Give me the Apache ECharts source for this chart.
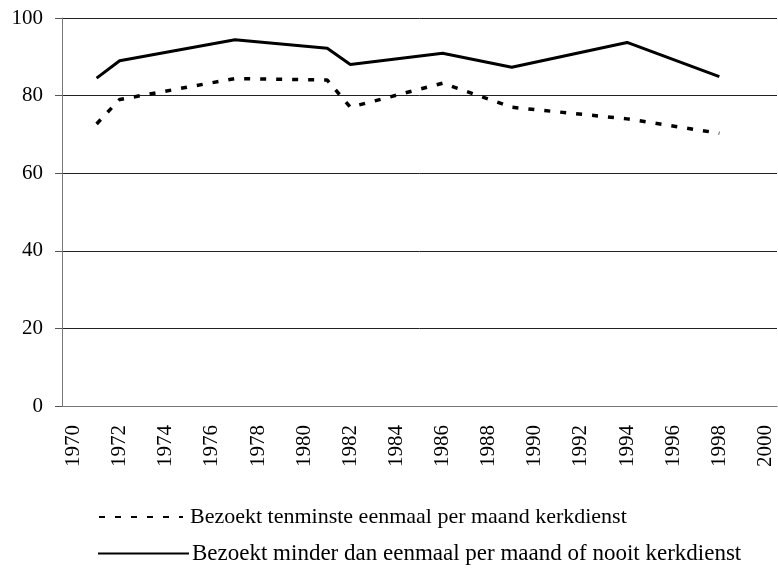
<!DOCTYPE html>
<html>
<head>
<meta charset="utf-8">
<script src="https://cdn.jsdelivr.net/npm/echarts@6/dist/echarts.min.js"></script>
<style>
html, body { margin: 0; padding: 0; background: #fff; }
#chart { width: 778px; height: 568px; }
</style>
</head>
<body>
<div id="chart"></div>
<script>
// jaren op de x-as (1970 t/m 2000)
var years = [];
for (var y = 1970; y <= 2000; y++) years.push(String(y));

// meetjaren en percentages
var surveyYears = ['1971', '1972', '1977', '1981', '1982', '1986', '1989', '1994', '1998'];
var tenminsteMaand = [72.7, 79.0, 84.4, 84.0, 77.0, 83.2, 77.0, 74.0, 70.3];
var minderOfNooit = [84.5, 89.0, 94.4, 92.2, 88.0, 90.9, 87.3, 93.7, 84.9];

var seriesNames = [
	'Bezoekt tenminste eenmaal per maand kerkdienst',
	'Bezoekt minder dan eenmaal per maand of nooit kerkdienst'
];

function toCategoryData(values) {
	return years.map(function (yr) {
		var i = surveyYears.indexOf(yr);
		return i >= 0 ? values[i] : null;
	});
}

var font = 'Liberation Serif';

function legendFor(name, left, top, width, size, pad) {
	return {
		orient: 'vertical',
		left: left,
		top: top,
		padding: 0,
		itemWidth: width,
		itemHeight: 14,
		itemStyle: { opacity: 0 },
		textStyle: { fontFamily: font, fontSize: size, color: '#000', padding: [0, 0, 0, pad] },
		data: [name]
	};
}

echarts.init(document.getElementById('chart')).setOption({
	animation: false,
	textStyle: { fontFamily: font, color: '#000' },
	grid: { left: 62, right: 1, top: 18, bottom: 162 },
	legend: [
		legendFor(seriesNames[0], 98, 506, 84, 22, 2),
		legendFor(seriesNames[1], 97, 542, 91, 23, -2)
	],
	xAxis: {
		type: 'category',
		data: years,
		boundaryGap: true,
		axisLine: { lineStyle: { color: '#777', width: 1 } },
		axisTick: { interval: 0, length: 7, lineStyle: { color: '#555' } },
		axisLabel: {
			interval: 1,
			rotate: 90,
			margin: 19,
			fontFamily: font,
			fontSize: 21,
			color: '#000'
		}
	},
	yAxis: {
		type: 'value',
		min: 0,
		max: 100,
		interval: 20,
		axisLine: { show: true, lineStyle: { color: '#777', width: 1 } },
		axisTick: { show: true, length: 7, lineStyle: { color: '#555' } },
		axisLabel: { margin: 19, fontFamily: font, fontSize: 21, color: '#000' },
		splitLine: { lineStyle: { color: '#222', width: 1 } }
	},
	series: [
		{
			name: seriesNames[0],
			type: 'line',
			data: toCategoryData(tenminsteMaand),
			connectNulls: true,
			showSymbol: false,
			symbol: 'none',
			color: '#000',
			lineStyle: { color: '#000', width: 3.5, type: [6, 10], cap: 'butt' }
		},
		{
			name: seriesNames[1],
			type: 'line',
			data: toCategoryData(minderOfNooit),
			connectNulls: true,
			showSymbol: false,
			symbol: 'none',
			color: '#000',
			lineStyle: { color: '#000', width: 3, type: 'solid' }
		}
	]
});
</script>
</body>
</html>
